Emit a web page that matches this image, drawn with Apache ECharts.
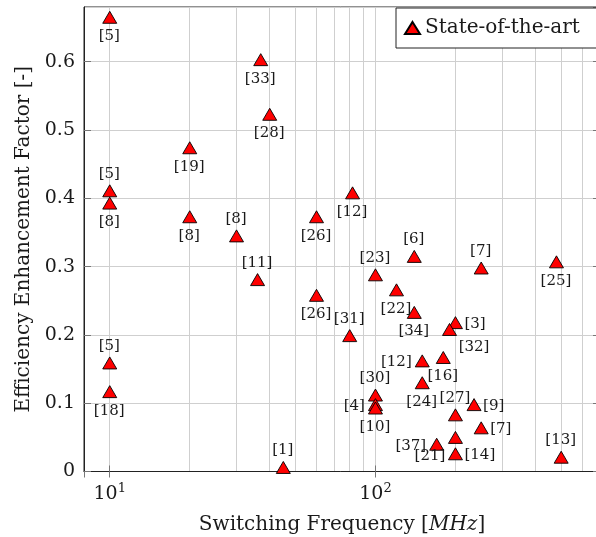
<!DOCTYPE html>
<html>
<head>
<meta charset="utf-8">
<script src="https://cdn.jsdelivr.net/npm/echarts/dist/echarts.min.js"></script>
<style>
html,body{margin:0;padding:0;background:#fff;}
#chart{width:596px;height:537px;}
</style>
</head>
<body>
<div id="chart"></div>
<script>
// ---- data ----
const seriesName = 'State-of-the-art';
const frequencyMHz = [10, 37, 40, 20, 10, 10, 20, 30, 60, 82, 36, 60, 10, 10, 45,
  140, 250, 480, 100, 120, 140, 200, 190, 80, 150, 180, 150, 100, 100, 100,
  200, 235, 250, 170, 200, 200, 500];
const efficiencyFactor = [0.662, 0.600, 0.520, 0.471, 0.408, 0.390, 0.370, 0.342, 0.370, 0.405, 0.278, 0.255, 0.156, 0.114, 0.003,
  0.312, 0.295, 0.304, 0.285, 0.263, 0.230, 0.215, 0.205, 0.196, 0.159, 0.164, 0.127, 0.109, 0.095, 0.090,
  0.080, 0.095, 0.061, 0.037, 0.047, 0.023, 0.018];
const references = ['[5]','[33]','[28]','[19]','[5]','[8]','[8]','[8]','[26]','[12]','[11]','[26]','[5]','[18]','[1]',
  '[6]','[7]','[25]','[23]','[22]','[34]','[3]','[32]','[31]','[12]','[16]','[24]','[30]','[4]','[10]',
  '[27]','[9]','[7]','[37]','[21]','[14]','[13]'];
// label placement (style, kept separate from values)
const labelAnchor = ['below','below','below','below','above','below','below','above','below','below','above','below','above','below','above',
  'above','above','below','above','below','below','right','below right','above','left','below','below','above','left','below',
  'above','right','right','left','below left','right','above'];
const minorGridX = [20, 30, 40, 50, 60, 70, 80, 90, 200, 300, 400, 500, 600];
const xMin = 8, xMax = 700;
const yMin = 0, yMax = 0.68, yStep = 0.1;

// ---- styles ----
const FONT = 'DejaVu Serif';
const TXT = '#1a1a1a';
const GRID = '#cfcfcf';
const SYM_W = 14, SYM_H = 12;
const cx = SYM_W / 2, cy = SYM_H / 2;
const anchorStyle = {
  'below':       {position: [cx, cy + 19.5], align: 'center', verticalAlign: 'middle'},
  'above':       {position: [cx, cy - 16.5], align: 'center', verticalAlign: 'middle'},
  'left':        {position: [cx - 10, cy + 2], align: 'right', verticalAlign: 'middle'},
  'right':       {position: [cx + 9.5, cy + 2], align: 'left', verticalAlign: 'middle'},
  'below right': {position: [cx + 25, cy + 18], align: 'center', verticalAlign: 'middle'},
  'below left':  {position: [cx - 25, cy + 19], align: 'center', verticalAlign: 'middle'}
};

const points = frequencyMHz.map((f, i) => ({
  value: [f, efficiencyFactor[i]],
  name: references[i],
  label: Object.assign({show: true, formatter: references[i]}, anchorStyle[labelAnchor[i]])
}));

function isPow10(v) {
  const l = Math.log10(v);
  return Math.abs(l - Math.round(l)) < 1e-6;
}

const chart = echarts.init(document.getElementById('chart'), null, {renderer: 'canvas'});
chart.setOption({
  animation: false,
  backgroundColor: '#fff',
  textStyle: {fontFamily: FONT, color: TXT},
  grid: {left: 84, top: 7, width: 516, height: 464.5, containLabel: false, outerBoundsMode: 'none',
    show: true, borderColor: '#222', borderWidth: 1, backgroundColor: 'transparent'},
  legend: {
    show: true,
    left: 396, top: 8,
    orient: 'horizontal',
    backgroundColor: '#fff',
    borderColor: '#222',
    borderWidth: 1,
    borderRadius: 0,
    padding: [9, 40, 9, 8],
    itemWidth: 15, itemHeight: 12,
    textStyle: {fontFamily: FONT, fontSize: 20, color: TXT, lineHeight: 22},
    data: [{name: seriesName, icon: 'triangle'}]
  },
  xAxis: [{
    type: 'log', logBase: 10, min: xMin, max: xMax,
    position: 'bottom',
    name: 'Switching Frequency [{i|MHz}]',
    nameLocation: 'middle', nameGap: 43,
    nameTextStyle: {fontFamily: FONT, fontSize: 20, color: TXT,
      rich: {i: {fontFamily: FONT, fontSize: 20, fontStyle: 'italic', color: TXT}}},
    axisLine: {show: true, lineStyle: {color: '#222', width: 1}},
    axisTick: {show: true, inside: true, length: 6, lineStyle: {color: '#777'}},
    axisLabel: {
      show: true, margin: 11, color: TXT, fontFamily: FONT, fontSize: 19,
      showMinLabel: false, showMaxLabel: false,
      formatter: v => isPow10(v) ? '10{sup|' + Math.round(Math.log10(v)) + '}' : '',
      rich: {sup: {fontFamily: FONT, fontSize: 13, color: TXT, padding: [0, 0, 10, 0]}}
    },
    splitLine: {show: true, lineStyle: {color: GRID, width: 1}}
  }, {
    type: 'log', logBase: 10, min: xMin, max: xMax,
    position: 'top',
    axisLine: {show: false},
    axisTick: {show: true, inside: true, length: 6, lineStyle: {color: '#777'}},
    axisLabel: {show: false},
    splitLine: {show: false}
  }],
  yAxis: [{
    type: 'value', min: yMin, max: yMax, interval: yStep,
    position: 'left',
    name: 'Efficiency Enhancement Factor [-]',
    nameLocation: 'middle', nameGap: 46, nameRotate: 90,
    nameTextStyle: {fontFamily: FONT, fontSize: 20, color: TXT},
    axisLine: {show: true, lineStyle: {color: '#222', width: 1}},
    axisTick: {show: true, inside: true, length: 7, lineStyle: {color: '#777'}},
    axisLabel: {show: true, margin: 9, color: TXT, fontFamily: FONT, fontSize: 19, showMaxLabel: false},
    splitLine: {show: true, lineStyle: {color: GRID, width: 1}}
  }, {
    type: 'value', min: yMin, max: yMax, interval: yStep,
    position: 'right',
    axisLine: {show: false},
    axisTick: {show: true, inside: true, length: 7, lineStyle: {color: '#777'}},
    axisLabel: {show: false},
    splitLine: {show: false}
  }],
  series: [{
    name: '__minor_grid',
    type: 'line',
    data: [],
    xAxisIndex: 0, yAxisIndex: 0,
    silent: true,
    z: 0,
    markLine: {
      silent: true, z: 0, symbol: ['none', 'none'], animation: false,
      label: {show: false},
      lineStyle: {color: GRID, width: 1, type: 'solid'},
      emphasis: {disabled: true},
      data: minorGridX.map(v => ({xAxis: v}))
    }
  }, {
    name: seriesName,
    type: 'scatter',
    xAxisIndex: 0, yAxisIndex: 0,
    z: 5,
    symbol: 'triangle',
    symbolSize: [SYM_W, SYM_H],
    symbolOffset: [0, -2],
    itemStyle: {color: '#ff0000', borderColor: '#000', borderWidth: 0.9, opacity: 1},
    label: {color: TXT, fontFamily: FONT, fontSize: 15},
    labelLayout: {hideOverlap: false},
    emphasis: {disabled: true},
    data: points
  }]
});
</script>
</body>
</html>
